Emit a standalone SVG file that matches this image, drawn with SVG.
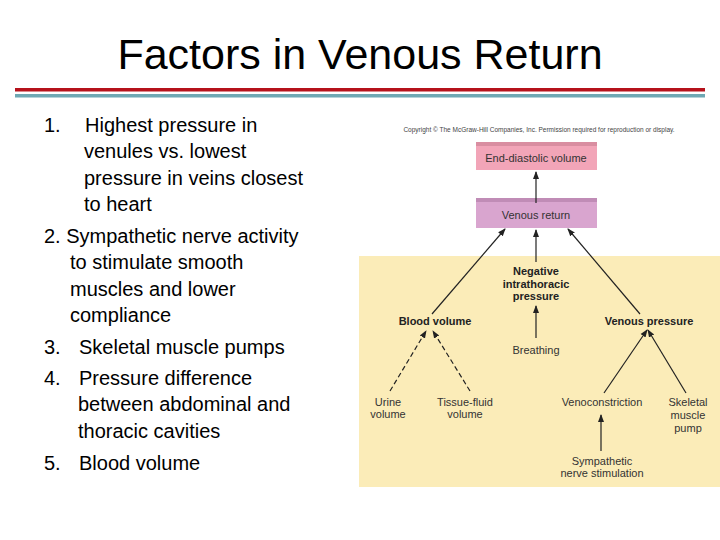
<svg xmlns="http://www.w3.org/2000/svg" width="720" height="540" viewBox="0 0 720 540">
<defs>
<marker id="ah" markerWidth="8" markerHeight="8" refX="7" refY="4" orient="auto" markerUnits="userSpaceOnUse"><path d="M0,1 L8,4 L0,7 z" fill="#222"/></marker>
<style>
.t{font-family:"Liberation Sans",Arial,sans-serif;fill:#000}
.b{font-family:"Liberation Sans",Arial,sans-serif;font-size:11px;fill:#333}
.bb{font-family:"Liberation Sans",Arial,sans-serif;font-size:11px;font-weight:bold;fill:#222}
.c{stroke:#222;stroke-width:1.2;fill:none;marker-end:url(#ah)}
.d{stroke-dasharray:5,3}
</style>
</defs>
<rect width="720" height="540" fill="#fff"/>
<text class="t" x="360" y="69" font-size="43" text-anchor="middle">Factors in Venous Return</text>
<rect x="15" y="88" width="690" height="3.5" fill="#b5121b"/>
<rect x="15" y="94" width="690" height="3.5" fill="#6ea8b3"/>
<g class="t" font-size="20">
<text x="44" y="132">1.</text><text x="85" y="132">Highest pressure in</text>
<text x="84" y="158">venules vs. lowest</text>
<text x="84" y="185">pressure in veins closest</text>
<text x="84" y="211">to heart</text>
<text x="44" y="243">2. Sympathetic nerve activity</text>
<text x="70" y="269">to stimulate smooth</text>
<text x="70" y="296">muscles and lower</text>
<text x="70" y="322">compliance</text>
<text x="44" y="354">3.</text><text x="79" y="354">Skeletal muscle pumps</text>
<text x="44" y="385">4.</text><text x="79" y="385">Pressure difference</text>
<text x="78" y="411">between abdominal and</text>
<text x="78" y="438">thoracic cavities</text>
<text x="44" y="470">5.</text><text x="79" y="470">Blood volume</text>
</g>
<rect x="359" y="256" width="361" height="231" fill="#fbecb8"/>
<text x="539" y="132" font-family="Liberation Sans,Arial,sans-serif" font-size="6.5" fill="#444" text-anchor="middle">Copyright © The McGraw-Hill Companies, Inc. Permission required for reproduction or display.</text>
<g id="edv"><rect x="476" y="142" width="121" height="28" fill="#f2a5b8"/><rect x="476" y="142" width="121" height="4" fill="#d98ea1"/><text class="b" x="536" y="162" text-anchor="middle" font-size="11.5">End-diastolic volume</text></g>
<g id="vr"><rect x="476" y="198" width="121" height="30" fill="#d9a5cf"/><rect x="476" y="198" width="121" height="4" fill="#c08cb6"/><text class="b" x="536" y="219" text-anchor="middle" font-size="11.5">Venous return</text></g>
<g id="nip"><text class="bb" x="536" y="275" text-anchor="middle">Negative</text><text class="bb" x="536" y="288" text-anchor="middle">intrathoracic</text><text class="bb" x="536" y="300" text-anchor="middle">pressure</text></g>
<g id="bv"><text class="bb" x="435" y="325" text-anchor="middle">Blood volume</text></g>
<g id="vp"><text class="bb" x="649" y="325" text-anchor="middle">Venous pressure</text></g>
<g id="br"><text class="b" x="536" y="354" text-anchor="middle">Breathing</text></g>
<g id="uv"><text class="b" x="388" y="406" text-anchor="middle">Urine</text><text class="b" x="388" y="418" text-anchor="middle">volume</text></g>
<g id="tf"><text class="b" x="465" y="406" text-anchor="middle">Tissue-fluid</text><text class="b" x="465" y="418" text-anchor="middle">volume</text></g>
<g id="vc"><text class="b" x="602" y="406" text-anchor="middle">Venoconstriction</text></g>
<g id="sm"><text class="b" x="688" y="406" text-anchor="middle">Skeletal</text><text class="b" x="688" y="419" text-anchor="middle">muscle</text><text class="b" x="688" y="432" text-anchor="middle">pump</text></g>
<g id="sn"><text class="b" x="602" y="465" text-anchor="middle">Sympathetic</text><text class="b" x="602" y="477" text-anchor="middle">nerve stimulation</text></g>
<g id="connectors">
<path class="c" d="M536,203 L536,172"/>
<path class="c" d="M536,262 L536,230"/>
<path class="c" d="M432,314 L505,229"/>
<path class="c" d="M640,314 L568,229"/>
<path class="c" d="M536,338 L536,306"/>
<path class="c d" d="M390,391 L426,331"/>
<path class="c d" d="M470,391 L433,331"/>
<path class="c" d="M604,393 L647,330"/>
<path class="c" d="M686,393 L648,330"/>
<path class="c" d="M601,451 L601,415"/>
</g>
</svg>
